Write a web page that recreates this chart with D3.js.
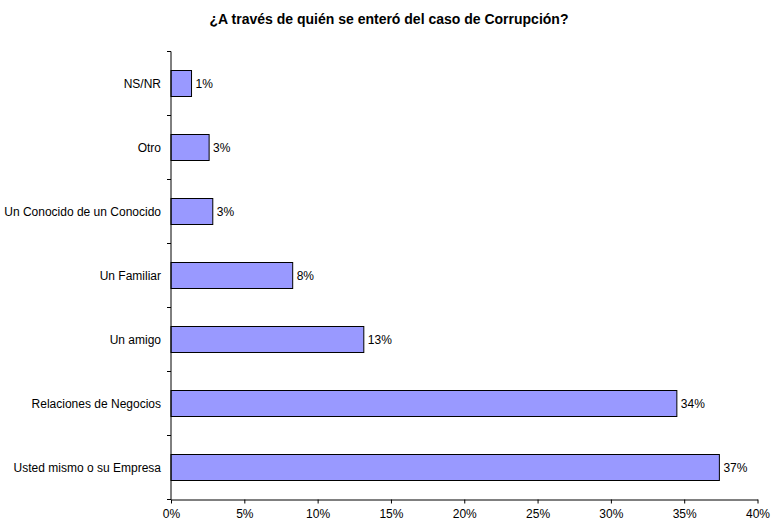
<!DOCTYPE html>
<html>
<head>
<meta charset="utf-8">
<script src="https://cdn.jsdelivr.net/npm/d3@7"></script>
<style>
html,body{margin:0;padding:0;background:#fff;}
svg text{font-family:"Liberation Sans", Arial, sans-serif;}
</style>
</head>
<body>
<svg id="chart" width="771" height="520"></svg>
<script>
const title = "¿A través de quién se enteró del caso de Corrupción?";
const categories = ["NS/NR","Otro","Un Conocido de un Conocido","Un Familiar","Un amigo","Relaciones de Negocios","Usted mismo o su Empresa"];
const values = [1.4, 2.6, 2.85, 8.3, 13.15, 34.5, 37.4];
const valueLabels = ["1%","3%","3%","8%","13%","34%","37%"];
const xTicks = [0,5,10,15,20,25,30,35,40];

(function(){
const svg = d3.select("#chart");
const mLeft = 171, mRight = 757.5, mTop = 51.5, mBottom = 499.5;

const x = d3.scaleLinear().domain([0,40]).range([mLeft,mRight]);
const yb = d3.scaleBand().domain(categories).range([mTop,mBottom]);

svg.append("text").attr("x",389).attr("y",24).attr("text-anchor","middle")
  .attr("font-size","14px").attr("font-weight","bold").text(title);

const data = categories.map((c,i)=>({c, v:values[i], l:valueLabels[i]}));

svg.selectAll("rect.bar").data(data).enter().append("rect")
  .attr("class","bar")
  .attr("x",x(0)).attr("y",d=>yb(d.c)+yb.bandwidth()/2-13)
  .attr("width",d=>x(d.v)-x(0)).attr("height",26)
  .attr("fill","#9999FF").attr("stroke","#000").attr("stroke-width",1);

svg.selectAll("text.val").data(data).enter().append("text")
  .attr("class","val")
  .attr("x",d=>x(d.v)+4).attr("y",d=>yb(d.c)+yb.bandwidth()/2+4)
  .attr("font-size","12px").text(d=>d.l);

// y axis
const yAxisG = svg.append("g");
yAxisG.append("line").attr("x1",mLeft).attr("x2",mLeft).attr("y1",mTop).attr("y2",mBottom).attr("stroke","#000");
const yTickPos = d3.range(categories.length+1).map(i=> mTop + i*yb.step());
yAxisG.selectAll("line.t").data(yTickPos).enter().append("line")
  .attr("x1",mLeft-4).attr("x2",mLeft).attr("y1",d=>d).attr("y2",d=>d).attr("stroke","#000");
yAxisG.selectAll("text").data(categories).enter().append("text")
  .attr("x",mLeft-10).attr("y",d=>yb(d)+yb.bandwidth()/2+4)
  .attr("text-anchor","end").attr("font-size","12px").text(d=>d);

// x axis
const xAxis = d3.axisBottom(x).tickValues(xTicks).tickFormat(d=>d+"%").tickSize(4).tickSizeOuter(0);
const gx = svg.append("g").attr("transform",`translate(0,${mBottom})`).call(xAxis);
gx.select(".domain").attr("stroke","#000");
gx.selectAll(".tick line").attr("stroke","#000");
gx.selectAll(".tick text").attr("font-size","12px").attr("font-family","Liberation Sans, Arial, sans-serif").attr("fill","#000").attr("dy","0.95em");
})();
</script>
</body>
</html>
